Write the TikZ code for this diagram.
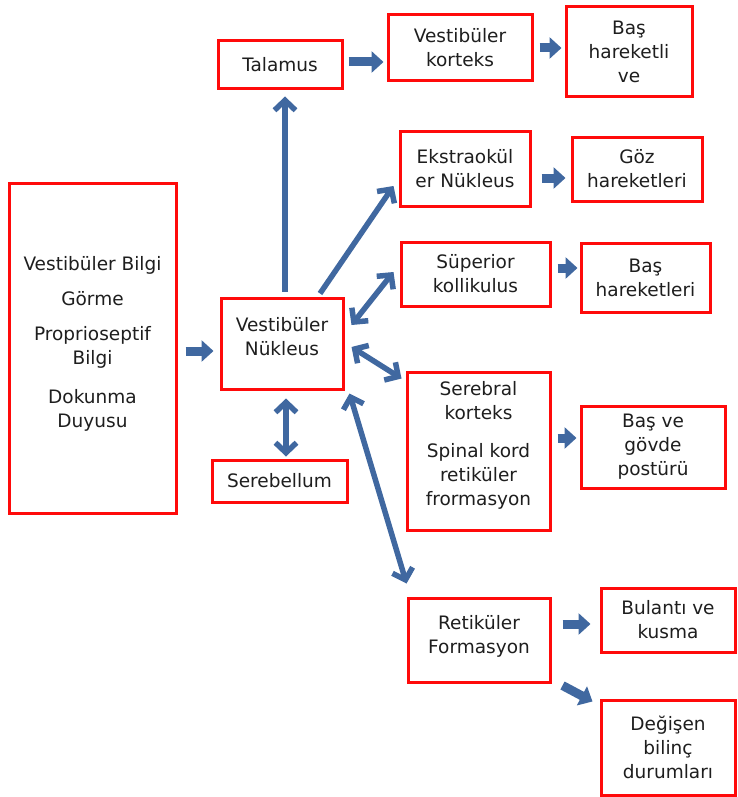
\documentclass[tikz,border=0pt]{standalone}
\usepackage{fontspec}
\setmainfont{DejaVu Sans}
\usepackage{xcolor}
\usepackage{tikz}
\usetikzlibrary{arrows.meta}

\definecolor{boxred}{RGB}{255,10,10}
\definecolor{arrowblue}{RGB}{64,104,160}
\definecolor{textgray}{RGB}{30,30,30}

\begin{document}
\begin{tikzpicture}[x=1pt, y=-1pt,
    box/.style={draw=boxred, line width=3pt, fill=white, align=center,
                text=textgray, inner sep=2pt,
                font=\fontsize{18.5}{24}\selectfont},
    fatarrow/.style={arrowblue, line width=9pt,
                -{Triangle[length=12pt,width=21pt]}},
    longarrow/.style={arrowblue, line width=5.5pt,
                -{Straight Barb[length=10pt,width=21pt]}},
    botharrow/.style={arrowblue, line width=5.5pt,
                {Straight Barb[length=10pt,width=21pt]}-{Straight Barb[length=10pt,width=21pt]}}]
\useasboundingbox (0,0) rectangle (737,797);

% boxes
\node[box, minimum width=167pt, minimum height=330pt] (inputs) at (92.5,348)
  {Vestibüler Bilgi\\[11pt] Görme\\[11pt] Proprioseptif\\ Bilgi\\[15pt] Dokunma\\ Duyusu\\[-12pt]};
\node[box, minimum width=122pt, minimum height=91pt] (vnuk) at (282,343.5)
  {Vestibüler\\ Nükleus\\[-10pt]};
\node[box, minimum width=135pt, minimum height=42pt] (sereb) at (279.5,481) {Serebellum};
\node[box, minimum width=124pt, minimum height=48pt] (talamus) at (280,65) {Talamus};
\node[box, minimum width=144pt, minimum height=66pt] (vkort) at (460,48) {Vestibüler\\ korteks};
\node[box, minimum width=126pt, minimum height=90pt] (bashl) at (629,52) {Baş\\ hareketli\\ ve};
\node[box, minimum width=130pt, minimum height=75pt] (ekstra) at (465,168.5) {Ekstraokül\\ er Nükleus};
\node[box, minimum width=130pt, minimum height=64pt] (goz) at (637,169) {Göz\\ hareketleri};
\node[box, minimum width=149pt, minimum height=64pt] (superior) at (475.5,274) {Süperior\\ kollikulus};
\node[box, minimum width=129pt, minimum height=69pt] (bashar) at (645.5,277.5) {Baş\\ hareketleri};
\node[box, minimum width=143pt, minimum height=158pt] (serebral) at (478.5,451)
  {Serebral\\ korteks\\[14pt] Spinal kord\\ retiküler\\ frormasyon\\[-9pt]};
\node[box, minimum width=144pt, minimum height=82pt] (postur) at (653,447) {Baş ve\\ gövde\\ postürü};
\node[box, minimum width=142pt, minimum height=84pt] (retik) at (479,640) {Retiküler\\ Formasyon\\[-12pt]};
\node[box, minimum width=134pt, minimum height=64pt] (bulanti) at (668,620) {Bulantı ve\\ kusma};
\node[box, minimum width=134pt, minimum height=95pt] (degisen) at (668,747.5) {Değişen\\ bilinç\\ durumları};

% fat arrows
\draw[fatarrow] ([shift={(8,3)}]inputs.east) -- ([shift={(-6,7.5)}]vnuk.west);
\draw[fatarrow] ([shift={(5,-3)}]talamus.east) -- ([shift={(-3,14)}]vkort.west);
\draw[fatarrow] ([shift={(6,0)}]vkort.east) -- ([shift={(-3,-4)}]bashl.west);
\draw[fatarrow] ([shift={(10,9.5)}]ekstra.east) -- ([shift={(-5,9)}]goz.west);
\draw[fatarrow] ([shift={(6,-6)}]superior.east) -- ([shift={(-2,-9.5)}]bashar.west);
\draw[fatarrow] ([shift={(6,-13)}]serebral.east) -- ([shift={(-3,-9)}]postur.west);
\draw[fatarrow] ([shift={(11,-16)}]retik.east) -- ([shift={(-9,4)}]bulanti.west);
\draw[fatarrow] ([shift={(11,2)}]retik.south east) -- ([shift={(-7,3)}]degisen.north west);

% long arrows
\draw[longarrow] ([shift={(3,-5)}]vnuk.north) -- ([shift={(5,6)}]talamus.south);
\draw[longarrow] ([shift={(38,-3)}]vnuk.north) -- ([shift={(-5,17.5)}]ekstra.west);
\draw[botharrow] ([shift={(7,-18.5)}]vnuk.east) -- ([shift={(-6,-2)}]superior.west);
\draw[botharrow] ([shift={(7,3.5)}]vnuk.east) -- ([shift={(-4,8)}]serebral.north west);
\draw[botharrow] ([shift={(5,3)}]vnuk.south east) -- ([shift={(0,-13)}]retik.north west);
\draw[botharrow] ([shift={(4,8)}]vnuk.south) -- ([shift={(6.5,-2)}]sereb.north);
\end{tikzpicture}
\end{document}
